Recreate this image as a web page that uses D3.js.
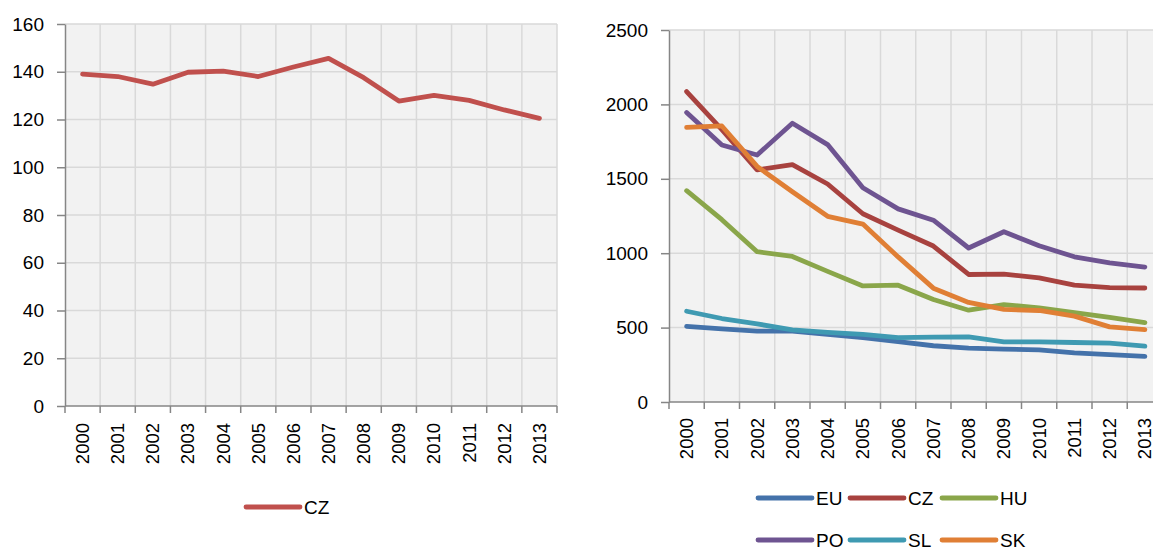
<!DOCTYPE html>
<html>
<head>
<meta charset="utf-8">
<script src="https://cdn.jsdelivr.net/npm/d3@7"></script>
<style>
  body { margin: 0; background: #fff; overflow: hidden; }
  svg { display: block; font-family: "Liberation Sans", Arial, sans-serif; }
</style>
</head>
<body>
<svg id="chart" width="1153" height="550"></svg>
<script>
//data
const years = [2000, 2001, 2002, 2003, 2004, 2005, 2006, 2007, 2008, 2009, 2010, 2011, 2012, 2013];
const leftTicks = [0, 20, 40, 60, 80, 100, 120, 140, 160];
const rightTicks = [0, 500, 1000, 1500, 2000, 2500];

const czIndex = [139, 138, 134.8, 139.8, 140.3, 138, 142, 145.6, 137.5, 127.7, 130.1, 128, 124, 120.5];

const seriesNames = ["EU", "CZ", "HU", "PO", "SL", "SK"];
const euVals = [508, 492, 476, 476, 455, 433, 405, 378, 362, 355, 350, 330, 318, 307];
const czVals = [2086, 1830, 1560, 1595, 1465, 1265, 1155, 1048, 857, 860, 834, 785, 768, 766];
const huVals = [1420, 1225, 1010, 978, 878, 780, 785, 689, 617, 655, 633, 600, 568, 534];
const poVals = [1945, 1727, 1660, 1873, 1730, 1440, 1298, 1222, 1035, 1144, 1050, 976, 935, 907];
const slVals = [610, 561, 525, 485, 468, 455, 433, 436, 437, 404, 404, 400, 395, 375];
const skVals = [1846, 1855, 1583, 1413, 1248, 1196, 975, 765, 669, 622, 615, 577, 505, 487];

const colors = {
  EU: "#4472aa", CZ: "#a8423f", HU: "#8aa64a",
  PO: "#6e5491", SL: "#3f9ab2", SK: "#e07f35",
};
const leftColor = "#c0504d";

const svg = d3.select("#chart");
const fontSize = 19;

function panel(opts) {
  const { x0, x1, y0, y1, max, ticks, series, labelGap } = opts;

  const x = d3.scaleBand().domain(years).range([x0, x1]);
  const y = d3.scaleLinear().domain([0, max]).range([y1, y0]);

  const g = svg.append("g");

  // plot background
  g.append("rect")
    .attr("x", x0).attr("y", y0)
    .attr("width", x1 - x0).attr("height", y1 - y0)
    .attr("fill", "#f2f2f2");

  // horizontal gridlines
  g.selectAll(".hgrid")
    .data(ticks.filter((d) => d > 0))
    .join("line")
    .attr("x1", x0).attr("x2", x1)
    .attr("y1", (d) => y(d)).attr("y2", (d) => y(d))
    .attr("stroke", "#d9d9d9").attr("stroke-width", 1.5);

  // vertical gridlines at category boundaries
  const bounds = years.map((d) => x(d)).concat([x1]);
  g.selectAll(".vgrid")
    .data(bounds.slice(1))
    .join("line")
    .attr("x1", (d) => d).attr("x2", (d) => d)
    .attr("y1", y0).attr("y2", y1)
    .attr("stroke", "#d9d9d9").attr("stroke-width", 1.5);

  // y axis
  const yAxis = d3.axisLeft(y).tickValues(ticks).tickFormat(d3.format("d"))
    .tickSize(8).tickSizeOuter(0);
  const ya = g.append("g").attr("transform", `translate(${x0},0)`).call(yAxis);
  ya.attr("font-size", null).attr("font-family", null);
  ya.select(".domain").attr("stroke", "#868686").attr("stroke-width", 1.5);
  ya.selectAll(".tick line").attr("stroke", "#868686").attr("stroke-width", 1.5);
  ya.selectAll(".tick text")
    .style("font-size", fontSize + "px").attr("fill", "#000")
    .attr("x", -21);

  // x axis: ticks at boundaries
  g.append("line")
    .attr("x1", x0).attr("x2", x1)
    .attr("y1", y1).attr("y2", y1)
    .attr("stroke", "#868686").attr("stroke-width", 1.5);
  g.selectAll(".xtick")
    .data(bounds)
    .join("line")
    .attr("x1", (d) => d).attr("x2", (d) => d)
    .attr("y1", y1).attr("y2", y1 + 7)
    .attr("stroke", "#868686").attr("stroke-width", 1.5);

  g.selectAll(".xlabel")
    .data(years)
    .join("text")
    .attr("transform", (d) => `translate(${x(d) + x.bandwidth() / 2},${y1 + labelGap}) rotate(-90)`)
    .attr("text-anchor", "end")
    .attr("dy", "0.35em")
    .style("font-size", "18.5px")
    .text((d) => d);

  // lines
  const line = d3.line()
    .x((d, i) => x(years[i]) + x.bandwidth() / 2)
    .y((d) => y(d));

  series.forEach((s) => {
    g.append("path")
      .datum(s.values)
      .attr("d", line)
      .attr("fill", "none")
      .attr("stroke", s.color)
      .attr("stroke-width", 4.8)
      .attr("stroke-linejoin", "round")
      .attr("stroke-linecap", "round");
  });
}

// left chart
panel({
  x0: 65, x1: 557, y0: 24, y1: 406, max: 160, ticks: leftTicks, labelGap: 17,
  series: [{ name: "CZ", values: czIndex, color: leftColor }],
});

// right chart (cut off at the right edge like the reference)
panel({
  x0: 669, x1: 669 + 35.25 * 14, y0: 30, y1: 402, max: 2500, ticks: rightTicks, labelGap: 16,
  series: seriesNames.map((n, i) => ({
    name: n,
    values: [euVals, czVals, huVals, poVals, slVals, skVals][i],
    color: colors[n],
  })),
});

// legends
function legendItem(lx, ly, name, color) {
  svg.append("line")
    .attr("x1", lx).attr("x2", lx + 54)
    .attr("y1", ly).attr("y2", ly)
    .attr("stroke", color).attr("stroke-width", 4.8)
    .attr("stroke-linecap", "round");
  svg.append("text")
    .attr("x", lx + 58).attr("y", ly)
    .attr("dy", "0.35em")
    .style("font-size", fontSize + "px")
    .text(name);
}

legendItem(246, 507, "CZ", leftColor);

const legX = [758, 850, 942];
const legY = [498, 540];
seriesNames.forEach((n, i) => {
  legendItem(legX[i % 3], legY[Math.floor(i / 3)], n, colors[n]);
});
</script>
</body>
</html>
